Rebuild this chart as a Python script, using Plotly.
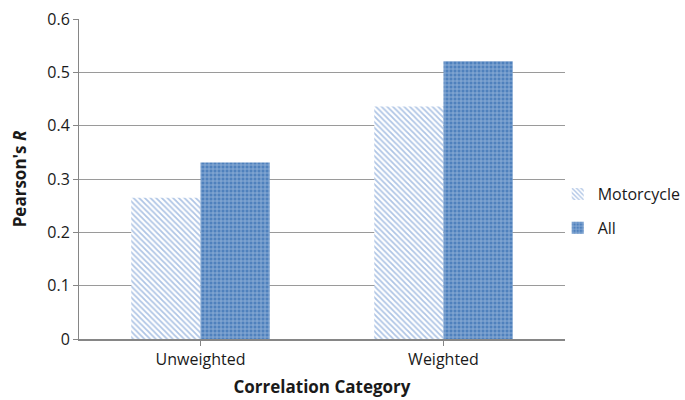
import plotly.graph_objects as go

categories = ["Unweighted", "Weighted"]
motorcycle = [0.265, 0.436]
all_vals = [0.331, 0.521]
y_ticks = [0, 0.1, 0.2, 0.3, 0.4, 0.5, 0.6]
y_tick_labels = ["0", "0.1", "0.2", "0.3", "0.4", "0.5", "0.6"]

font_family = "'Open Sans', sans-serif"

fig = go.Figure()
fig.add_trace(go.Bar(
    name="Motorcycle", x=categories, y=motorcycle, legendgroup="m",
    marker=dict(
        color="white",
        line=dict(width=0),
        pattern=dict(shape="\\", fgcolor="#5F8BCB", bgcolor="white",
                     size=4, solidity=0.45),
    ),
))
fig.add_trace(go.Bar(
    name="All", x=categories, y=all_vals, legendgroup="a",
    marker=dict(
        color="#4F81BD",
        line=dict(width=0),
        pattern=dict(shape="+", fgcolor="#D3E0F2", bgcolor="#4F81BD",
                     size=4, solidity=0.4),
    ),
))

fig.update_layout(
    width=685, height=400,
    margin=dict(l=79, r=120, t=19, b=61, autoexpand=False),
    plot_bgcolor="white", paper_bgcolor="white",
    barmode="group", bargap=0.43, bargroupgap=0,
    font=dict(family=font_family, size=16, color="#1a1a1a"),
    legend=dict(x=0.985, y=0.40, yanchor="middle", xanchor="left",
                font=dict(size=16), itemwidth=30, tracegroupgap=10,
                traceorder="grouped", bgcolor="rgba(0,0,0,0)"),
    xaxis=dict(
        showline=True, linecolor="#868686", linewidth=1.5,
        ticks="outside", tickcolor="#868686", ticklen=5,
        tickmode="array", tickvals=categories,
        tickfont=dict(size=16),
        title=dict(text="<b>Correlation Category</b>", font=dict(size=17), standoff=12),
        showgrid=False,
    ),
    yaxis=dict(
        range=[0, 0.6], tickvals=y_ticks, ticktext=y_tick_labels,
        showline=True, linecolor="#868686", linewidth=1,
        ticks="outside", tickcolor="#868686", ticklen=5,
        tickfont=dict(size=16),
        showgrid=True, gridcolor="#9A9A9A", gridwidth=1,
        zeroline=False,
        title=dict(text="<b>Pearson's <i>R</i></b>", font=dict(size=17), standoff=16),
    ),
)

fig.write_html("out.html")
